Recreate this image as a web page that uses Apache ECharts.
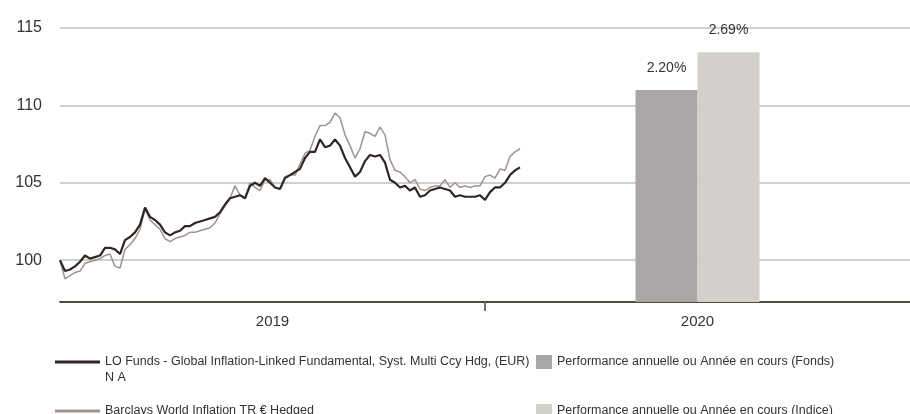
<!DOCTYPE html>
<html>
<head>
<meta charset="utf-8">
<script src="https://cdn.jsdelivr.net/npm/echarts@6/dist/echarts.min.js"></script>
<style>
  html, body { margin: 0; padding: 0; background: #fff; }
  #chart { width: 910px; height: 414px; }
</style>
</head>
<body>
<div id="chart"></div>
<script>
// categories of the bottom axis
const years = ['2019', '2020'];

// weekly-ish index levels (base 100)
const fundValues = [
  100.0, 99.3, 99.4, 99.6, 99.9, 100.3, 100.1, 100.2, 100.3, 100.8,
  100.8, 100.7, 100.4, 101.3, 101.5, 101.8, 102.3, 103.4, 102.8, 102.6,
  102.3, 101.8, 101.6, 101.8, 101.9, 102.2, 102.2, 102.4, 102.5, 102.6,
  102.7, 102.8, 103.1, 103.6, 104.0, 104.1, 104.2, 104.0, 104.8, 105.0,
  104.8, 105.3, 105.0, 104.7, 104.6, 105.3, 105.5, 105.7, 105.9, 106.6,
  107.0, 107.0, 107.8, 107.3, 107.4, 107.8, 107.4, 106.6, 106.0, 105.4,
  105.7, 106.4, 106.8, 106.7, 106.8, 106.3, 105.2, 105.0, 104.7, 104.8,
  104.5, 104.7, 104.1, 104.2, 104.5, 104.6, 104.7, 104.6, 104.5, 104.1,
  104.2, 104.1, 104.1, 104.1, 104.2, 103.9, 104.4, 104.7, 104.7, 105.0,
  105.5, 105.8, 106.0
];
const indexValues = [
  100.0, 98.8, 99.0, 99.2, 99.3, 99.8, 99.9, 100.0, 100.1, 100.3,
  100.4, 99.6, 99.5, 100.7, 101.0, 101.4, 102.0, 103.3, 102.6, 102.3,
  102.0, 101.4, 101.2, 101.4, 101.5, 101.6, 101.8, 101.8, 101.9, 102.0,
  102.1, 102.4, 103.0, 103.5, 104.0, 104.8, 104.2, 104.0, 105.0, 104.7,
  104.5, 105.2, 105.2, 104.7, 104.6, 105.4, 105.5, 105.5, 106.2, 106.9,
  107.1, 108.0, 108.7, 108.7, 108.9, 109.5, 109.2, 108.1, 107.4, 106.6,
  107.2, 108.3, 108.2, 108.0, 108.6, 108.1, 106.5, 105.8, 105.7, 105.4,
  105.0, 105.2, 104.6, 104.5, 104.7, 104.8, 104.8, 105.2, 104.7, 105.0,
  104.7, 104.8, 104.7, 104.8, 104.8, 105.4, 105.5, 105.3, 105.9, 105.8,
  106.7, 107.0, 107.2
];

// annual performance bars (plotted level) and their labels
const fundBar = ['-', 111.0];
const indexBar = ['-', 113.43];
const fundBarLabels = ['', '2.20%'];
const indexBarLabels = ['', '2.69%'];

const fundName = 'LO Funds - Global Inflation-Linked Fundamental, Syst. Multi Ccy Hdg, (EUR)';
const indexName = 'Barclays World Inflation TR \u20ac Hedged';
const fundBarName = 'Performance annuelle ou Ann\u00e9e en cours (Fonds)';
const indexBarName = 'Performance annuelle ou Ann\u00e9e en cours (Indice)';

const regular = '"Liberation Sans", Arial, sans-serif';

const chart = echarts.init(document.getElementById('chart'));

const legendText = { color: '#333', fontFamily: regular, fontSize: 12.5, lineHeight: 16 };

const option = {
  animation: false,
  backgroundColor: '#fff',
  grid: { left: 60, right: 0, top: 28, bottom: 112, containLabel: false },
  xAxis: [
    {
      type: 'category',
      data: years,
      boundaryGap: true,
      axisLine: { show: true, lineStyle: { color: '#4a4e3a', width: 2 } },
      axisTick: { show: false },
      axisLabel: { color: '#333', fontFamily: regular, fontSize: 15, margin: 12 },
      splitLine: { show: false }
    },
    {
      type: 'value',
      min: 0,
      max: 170,
      position: 'bottom',
      axisLine: { show: false },
      axisLabel: { show: false },
      splitLine: { show: false },
      axisTick: { show: true, customValues: [85], length: 9, lineStyle: { color: '#6f7260', width: 2 } }
    }
  ],
  yAxis: {
    type: 'value',
    min: 97.3,
    max: 115,
    minInterval: 5,
    maxInterval: 5,
    axisLine: { show: false },
    axisTick: { show: false },
    axisLabel: { color: '#333', fontFamily: regular, fontSize: 16, margin: 18, showMinLabel: false },
    splitLine: { lineStyle: { color: '#cfcfcf', width: 2 } }
  },
  legend: [
    {
      left: 55, top: 338, padding: 0, icon: 'rect', itemWidth: 45, itemHeight: 3, itemGap: 0,
      data: [fundName],
      formatter: function (name) { return '\n' + name + '\nN A'; },
      textStyle: legendText
    },
    {
      left: 55, top: 403, padding: 0, icon: 'rect', itemWidth: 45, itemHeight: 3,
      data: [indexName],
      textStyle: legendText
    },
    {
      left: 536, top: 354, padding: 0, icon: 'rect', itemWidth: 16, itemHeight: 14,
      data: [fundBarName],
      textStyle: legendText
    },
    {
      left: 536, top: 403, padding: 0, icon: 'rect', itemWidth: 16, itemHeight: 14,
      data: [indexBarName],
      textStyle: legendText
    }
  ],
  series: [
    {
      name: fundBarName,
      type: 'bar',
      xAxisIndex: 0,
      data: fundBar,
      barWidth: 62,
      barGap: '0%',
      itemStyle: { color: '#aaa6a5' },
      label: {
        show: true, position: 'top', distance: 15,
        color: '#333', fontFamily: regular, fontSize: 14,
        formatter: function (p) { return fundBarLabels[p.dataIndex]; }
      }
    },
    {
      name: indexBarName,
      type: 'bar',
      xAxisIndex: 0,
      data: indexBar,
      barWidth: 62,
      barGap: '0%',
      itemStyle: { color: '#d3cfcb' },
      label: {
        show: true, position: 'top', distance: 15,
        color: '#333', fontFamily: regular, fontSize: 14,
        formatter: function (p) { return indexBarLabels[p.dataIndex]; }
      }
    },
    {
      name: indexName,
      type: 'line',
      xAxisIndex: 1,
      showSymbol: false,
      symbol: 'none',
      data: indexValues.map(function (v, i) { return [i, v]; }),
      lineStyle: { color: '#9e938e', width: 1.5 },
      itemStyle: { color: '#9e938e' },
      z: 3
    },
    {
      name: fundName,
      type: 'line',
      xAxisIndex: 1,
      showSymbol: false,
      symbol: 'none',
      data: fundValues.map(function (v, i) { return [i, v]; }),
      lineStyle: { color: '#2f2625', width: 2.2 },
      itemStyle: { color: '#2f2625' },
      z: 4
    }
  ]
};

chart.setOption(option);
</script>
</body>
</html>
